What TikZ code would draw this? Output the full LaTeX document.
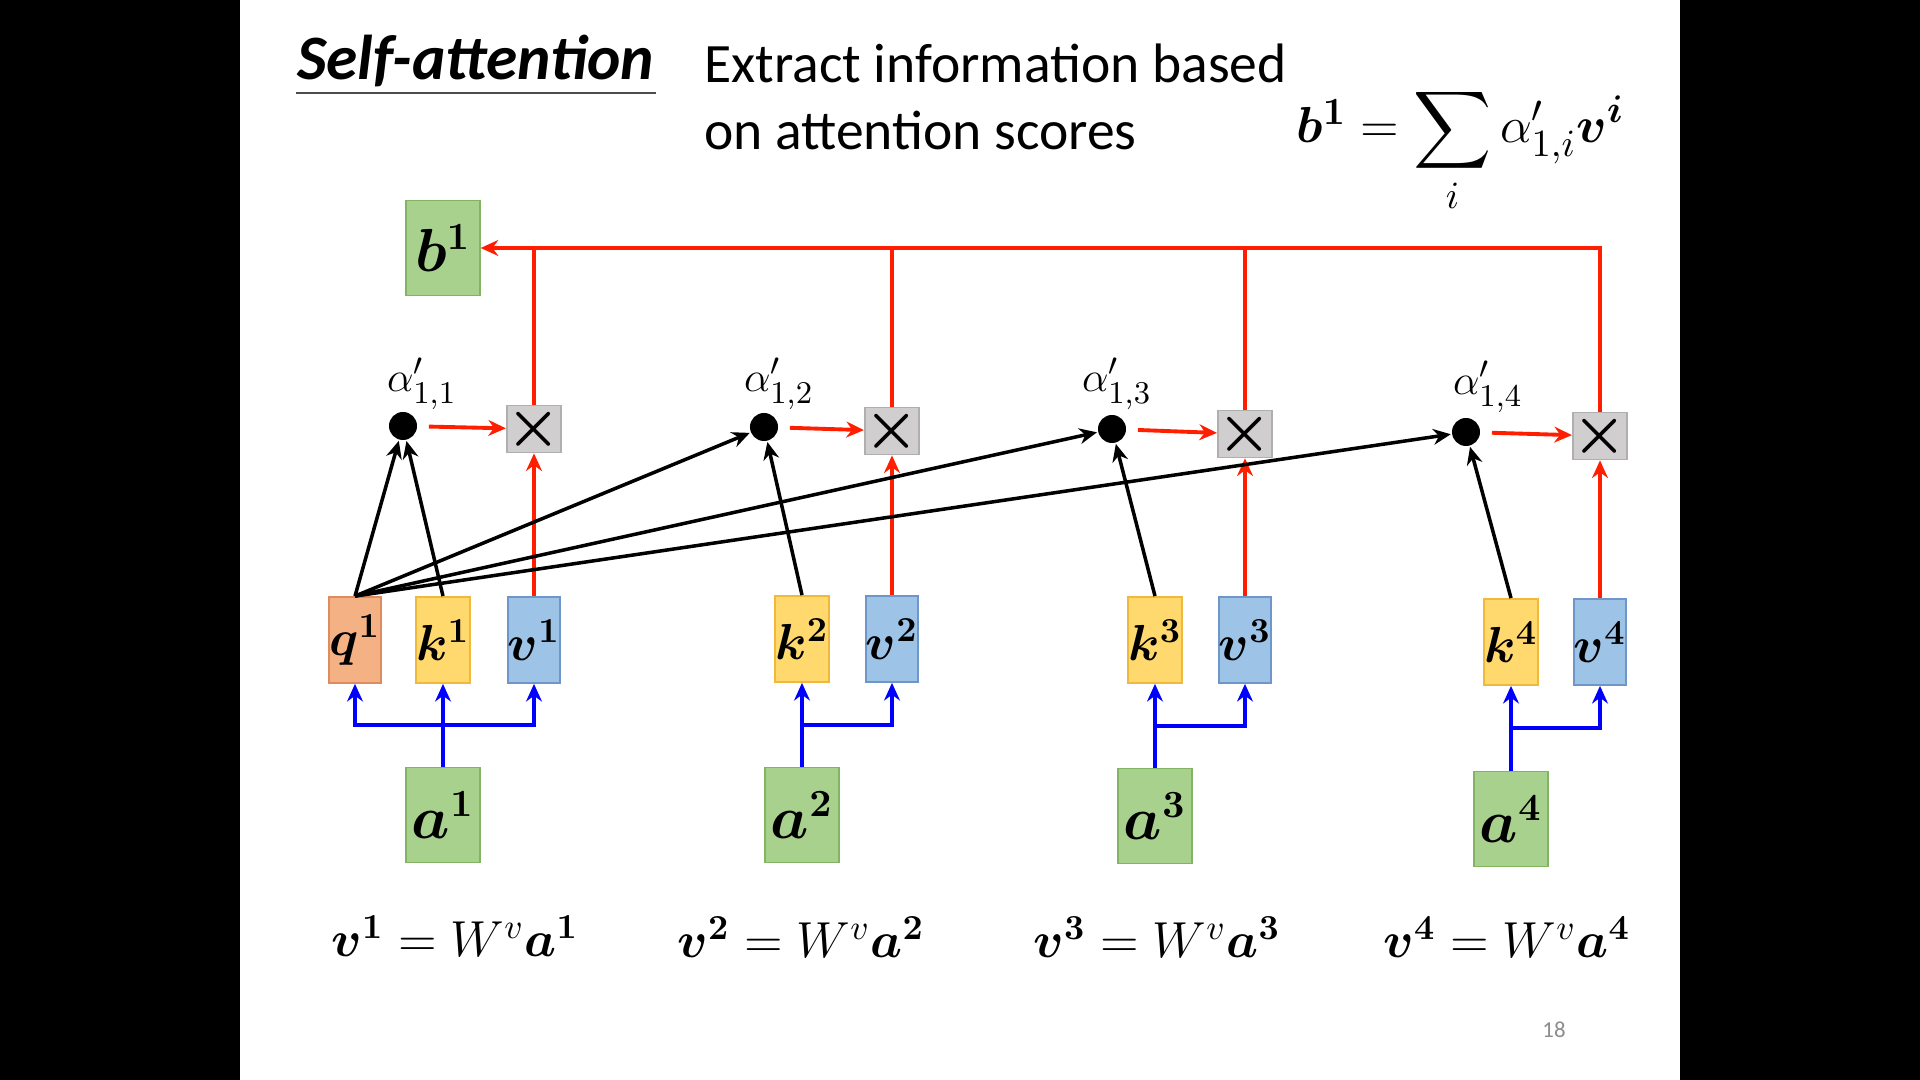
\documentclass[tikz,border=0pt]{standalone}
\usepackage{amsmath,amssymb,bm}
\usepackage[no-math]{fontspec}
\setmainfont{Carlito}
\usetikzlibrary{arrows.meta,positioning,calc}

\definecolor{qfill}{RGB}{244,177,131}
\definecolor{qline}{RGB}{222,140,95}
\definecolor{kfill}{RGB}{255,217,110}
\definecolor{kline}{RGB}{240,185,60}
\definecolor{vfill}{RGB}{157,195,230}
\definecolor{vline}{RGB}{110,150,200}
\definecolor{gfill}{RGB}{169,209,142}
\definecolor{gline}{RGB}{130,180,100}
\definecolor{mfill}{RGB}{208,206,206}
\definecolor{mline}{RGB}{175,175,175}
\definecolor{redline}{RGB}{255,30,0}

\begin{document}
\begin{tikzpicture}[x=0.01cm, y=-0.01cm, >={Stealth[length=5pt,width=4.5pt]}, thick,
    cell/.style={draw, line width=0.5pt, minimum width=0.465cm, minimum height=0.86cm, inner sep=0pt,
        font=\fontsize{14}{14}\selectfont},
    qnode/.style={cell, fill=qfill, draw=qline},
    knode/.style={cell, fill=kfill, draw=kline},
    vnode/.style={cell, fill=vfill, draw=vline},
    gnode/.style={draw=gline, fill=gfill, line width=0.5pt, minimum width=0.735cm, minimum height=0.95cm,
        inner sep=0pt, font=\fontsize{16}{16}\selectfont},
    mulnode/.style={draw=mline, fill=mfill, line width=0.5pt, minimum size=0.47cm, inner sep=0pt,
        font=\fontsize{18}{18}\selectfont},
    score/.style={circle, fill=black, minimum size=0.28cm, inner sep=0pt},
    redarr/.style={draw=redline, line width=1.1pt},
    blkarr/.style={draw=black, line width=1pt},
    bluarr/.style={draw=blue, line width=1.2pt}
  ]
    \useasboundingbox (0,0) rectangle (1920,1080);
    % 背景
    \fill[black] (0,0) rectangle (1920,1080);
    \fill[white] (240,0) rectangle (1680,1080);

    % 标题
    \node[anchor=base west, inner sep=0pt, font=\fontsize{18}{18}\bfseries\itshape\selectfont] (title) at (296,80) {Self-attention};
    \draw[black!70, line width=0.6pt] ([yshift=-3.8pt]title.base west) -- ([yshift=-3.8pt]title.base east);
    \node[anchor=west, align=left, inner sep=0pt, font=\fontsize{15.8}{19}\selectfont] (desc) at (703,97)
        {Extract information based\\on attention scores};
    \node[anchor=base west, inner sep=0pt, font=\fontsize{15.4}{15.4}\selectfont] (sumeq) at (1295,143)
        {$\boldsymbol{b^1} = \displaystyle\sum_i \alpha'_{1,i}\boldsymbol{v^i}$};

    % q k v
    \node[qnode] (q1) at (355,640) {$\boldsymbol{q^1}$};
    \node[knode] (k1) at (443,640) {$\boldsymbol{k^1}$};
    \node[vnode] (v1) at (534,640) {$\boldsymbol{v^1}$};
    \node[knode] (k2) at (802,639) {$\boldsymbol{k^2}$};
    \node[vnode] (v2) at (892,639) {$\boldsymbol{v^2}$};
    \node[knode] (k3) at (1155,640) {$\boldsymbol{k^3}$};
    \node[vnode] (v3) at (1245,640) {$\boldsymbol{v^3}$};
    \node[knode] (k4) at (1511,642) {$\boldsymbol{k^4}$};
    \node[vnode] (v4) at (1600,642) {$\boldsymbol{v^4}$};

    % 输入 a 与输出 b
    \node[gnode] (a1) at (443,815) {$\boldsymbol{a^1}$};
    \node[gnode] (a2) at (802,815) {$\boldsymbol{a^2}$};
    \node[gnode] (a3) at (1155,816) {$\boldsymbol{a^3}$};
    \node[gnode] (a4) at (1511,819) {$\boldsymbol{a^4}$};
    \node[gnode] (b1) at (443,248) {$\boldsymbol{b^1}$};

    % 注意力分数与乘法
    \node[score] (d1) at (403,426) {};
    \node[score] (d2) at (764,427) {};
    \node[score] (d3) at (1112,429) {};
    \node[score] (d4) at (1466,432) {};
    \node[mulnode] (m1) at (534,429) {$\boldsymbol{\times}$};
    \node[mulnode] (m2) at (892,431) {$\boldsymbol{\times}$};
    \node[mulnode] (m3) at (1245,434) {$\boldsymbol{\times}$};
    \node[mulnode] (m4) at (1600,436) {$\boldsymbol{\times}$};
    \node[font=\fontsize{13}{13}\selectfont] (s1) at (422,384) {$\alpha'_{1,1}$};
    \node[font=\fontsize{13}{13}\selectfont] (s2) at (779,384) {$\alpha'_{1,2}$};
    \node[font=\fontsize{13}{13}\selectfont] (s3) at (1117,384) {$\alpha'_{1,3}$};
    \node[font=\fontsize{13}{13}\selectfont] (s4) at (1488,387) {$\alpha'_{1,4}$};

    % 连线
    \foreach \i in {1,...,4} {
        \draw[blkarr,->] (q1.north) -- (d\i);
        \draw[blkarr,->] (k\i.north) -- (d\i);
        \draw[redarr,->,shorten <=3pt] (d\i) -- (m\i);
        \draw[redarr,->] (v\i) -- (m\i);
        \draw[bluarr,->] (a\i.north) -- (k\i.south);
        \coordinate (j\i) at ($(k\i.south)!0.5!(a\i.north)$);
        \draw[bluarr,->] (j\i) -| (v\i.south);
    }
    \draw[bluarr,->] (j1) -| (q1.south);
    \draw[redarr] (m1.north) -- (m1.north |- b1.east);
    \draw[redarr] (m2.north) -- (m2.north |- b1.east);
    \draw[redarr] (m3.north) -- (m3.north |- b1.east);
    \draw[redarr,->] (m4.north) |- (b1.east);

    % 公式
    \node[font=\fontsize{14.5}{14.5}\selectfont] (e1) at (455,936) {$\boldsymbol{v^1} = W^v\boldsymbol{a^1}$};
    \node[font=\fontsize{14.5}{14.5}\selectfont] (e2) at (801,937) {$\boldsymbol{v^2} = W^v\boldsymbol{a^2}$};
    \node[font=\fontsize{14.5}{14.5}\selectfont] (e3) at (1157,937) {$\boldsymbol{v^3} = W^v\boldsymbol{a^3}$};
    \node[font=\fontsize{14.5}{14.5}\selectfont] (e4) at (1507,937) {$\boldsymbol{v^4} = W^v\boldsymbol{a^4}$};

    % 页码
    \node[text=black!45, font=\fontsize{6.5}{6.5}\selectfont] (page) at (1554,1030) {18};
\end{tikzpicture}
\end{document}
